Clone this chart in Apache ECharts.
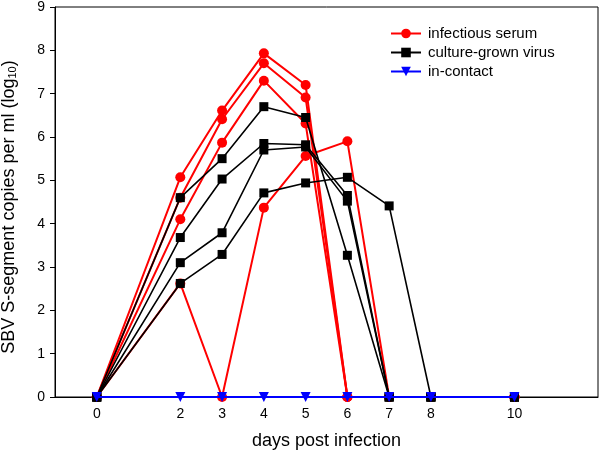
<!DOCTYPE html>
<html>
<head>
<meta charset="utf-8">
<script src="https://cdn.jsdelivr.net/npm/echarts@6/dist/echarts.min.js"></script>
<style>html,body{margin:0;padding:0;background:#fff}#c{width:600px;height:453px}</style>
</head>
<body>
<div id="c"></div>
<script>
const days = [0, 2, 3, 4, 5, 6, 7, 8, 10];
const xTicks = [0, 2, 3, 4, 5, 6, 7, 8, 10];
const yTicks = [0, 1, 2, 3, 4, 5, 6, 7, 8, 9];

const serum1 = [0, 5.07, 6.61, 7.93, 7.20, 0, 0, 0, 0];
const serum2 = [0, 4.60, 6.41, 7.70, 6.91, 0, 0, 0, 0];
const serum3 = [0, 4.10, 5.87, 7.30, 6.31, 0, 0, 0, 0];
const serum4 = [0, 2.62, 0, 4.37, 5.56, 5.90, 0, 0, 0];

const culture1 = [0, 4.60, 5.50, 6.70, 6.45, 3.27, 0, 0, 0];
const culture2 = [0, 3.68, 5.03, 5.85, 5.82, 4.65, 0, 0, 0];
const culture3 = [0, 3.10, 3.79, 5.70, 5.77, 4.52, 0, 0, 0];
const culture4 = [0, 2.62, 3.29, 4.71, 4.94, 5.07, 4.41, 0, 0];

const contact = [0, 0, 0, 0, 0, 0, 0, 0, 0];

const FONT = 'Liberation Sans, Arial, sans-serif';

function mk(name, vals, color, symbol, size, width, z) {
  return {
    name: name, type: 'line', data: days.map((d, i) => [d, vals[i]]),
    symbol: symbol, symbolSize: size, showSymbol: true,
    lineStyle: {color: color, width: width},
    itemStyle: {color: color, borderWidth: 0},
    emphasis: {disabled: true}, animation: false, z: z
  };
}

const series = [
  mk('infectious serum', serum1, '#ff0000', 'circle', 10, 2, 2),
  mk('infectious serum', serum2, '#ff0000', 'circle', 10, 2, 2),
  mk('infectious serum', serum3, '#ff0000', 'circle', 10, 2, 2),
  mk('infectious serum', serum4, '#ff0000', 'circle', 10, 2, 2),
  mk('culture-grown virus', culture1, '#000000', 'rect', 9, 1.6, 3),
  mk('culture-grown virus', culture2, '#000000', 'rect', 9, 1.6, 3),
  mk('culture-grown virus', culture3, '#000000', 'rect', 9, 1.6, 3),
  mk('culture-grown virus', culture4, '#000000', 'rect', 9, 1.6, 3),
  mk('in-contact', contact, '#0000ff', 'path://M0,0 L10,0 L5,9 Z', 10, 2, 4)
];

const chart = echarts.init(document.getElementById('c'), null, {renderer: 'canvas'});
chart.setOption({
  animation: false,
  backgroundColor: '#fff',
  grid: {left: 55, right: 2, top: 7, bottom: 56, show: true, borderColor: '#000', borderWidth: 1,
    containLabel: false, outerBoundsMode: 'none'},
  legend: {
    data: ['infectious serum', 'culture-grown virus', 'in-contact'],
    orient: 'vertical', left: 390, top: 26, padding: 0,
    itemWidth: 30, itemHeight: 12, itemGap: 4,
    textStyle: {fontFamily: FONT, fontSize: 15, color: '#000', padding: [0, 0, 0, 2]},
    selectedMode: false
  },
  xAxis: {
    type: 'value', min: -1, max: 12,
    name: 'days post infection', nameLocation: 'middle', nameGap: 35,
    nameTextStyle: {fontFamily: FONT, fontSize: 18, color: '#000'},
    axisLine: {show: true, onZero: false, lineStyle: {color: '#000', width: 1}},
    axisTick: {show: true, inside: true, length: 4, customValues: xTicks, lineStyle: {color: '#000'}},
    axisLabel: {customValues: xTicks, fontFamily: FONT, fontSize: 14, color: '#000', margin: 10},
    splitLine: {show: false}
  },
  yAxis: {
    type: 'value', min: 0, max: 9, interval: 1,
    name: 'SBV S-segment copies per ml (log{sub|10})', nameLocation: 'middle', nameGap: 37,
    nameTextStyle: {fontFamily: FONT, fontSize: 18, color: '#000', padding: [0, 10, 0, 0],
      rich: {sub: {fontFamily: FONT, fontSize: 11, color: '#000', verticalAlign: 'bottom', padding: [7, 0, 0, 0]}}},
    axisLine: {show: true, onZero: false, lineStyle: {color: '#000', width: 1}},
    axisTick: {show: true, inside: false, length: 5, lineStyle: {color: '#000'}},
    axisLabel: {fontFamily: FONT, fontSize: 14, color: '#000', margin: 10},
    splitLine: {show: false}
  },
  series: series
});
</script>
</body>
</html>
